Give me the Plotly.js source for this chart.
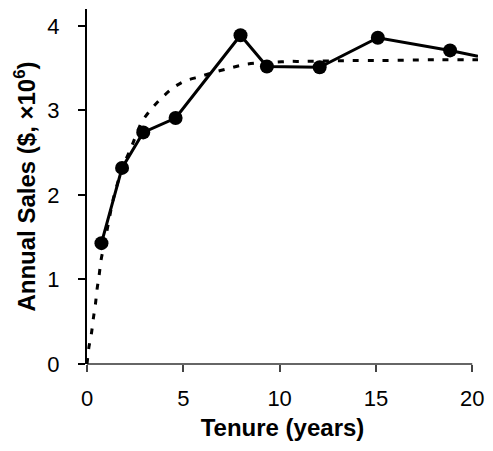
<!DOCTYPE html>
<html>
<head>
<meta charset="utf-8">
<script src="https://cdn.plot.ly/plotly-3.0.1.min.js"></script>
<style>html,body{margin:0;padding:0;background:#fff;}</style>
</head>
<body>
<div id="chart" style="width:493px;height:451px;"></div>
<script>
// Observed annual sales by tenure (line continues past last marker)
const tenure = [0.75, 1.82, 2.92, 4.6, 7.97, 9.34, 12.08, 15.1, 18.85, 20.3];
const sales  = [1.43, 2.32, 2.74, 2.91, 3.89, 3.52, 3.51, 3.86, 3.71, 3.64];
const markedCount = 9;

// Fitted curve (dotted)
const fitTenure = [0, 0.1, 0.23, 0.33, 0.44, 0.52, 0.63, 0.73, 1.03, 1.35, 1.8, 2.31, 2.83, 3.35, 3.88, 4.48, 5.09, 5.87, 6.56, 7.4, 8.1, 8.8, 9.7, 10.5, 11.25, 13.6, 15.2, 18.3, 20.3];
const fitSales  = [0, 0.2, 0.36, 0.54, 0.71, 0.88, 1.05, 1.23, 1.57, 1.94, 2.3, 2.57, 2.86, 3.02, 3.15, 3.27, 3.35, 3.4, 3.45, 3.5, 3.54, 3.56, 3.57, 3.58, 3.58, 3.59, 3.59, 3.6, 3.6];

const xTicks = [0, 5, 10, 15, 20];
const yTicks = [0, 1, 2, 3, 4];

const font = "Arial, 'Liberation Sans', sans-serif";

const traces = [
  {
    x: fitTenure, y: fitSales, type: 'scatter', mode: 'lines',
    line: {color: '#000', width: 3, dash: '6px,9px', shape: 'spline', smoothing: 0.6},
    hoverinfo: 'skip'
  },
  {
    x: tenure, y: sales, type: 'scatter', mode: 'lines',
    line: {color: '#000', width: 3}
  },
  {
    x: tenure.slice(0, markedCount), y: sales.slice(0, markedCount), type: 'scatter', mode: 'markers',
    marker: {color: '#000', size: 14}, cliponaxis: false
  }
];

const layout = {
  width: 493, height: 451,
  margin: {l: 87, r: 15, t: 9, b: 87},
  showlegend: false,
  paper_bgcolor: '#fff', plot_bgcolor: '#fff',
  font: {family: font, color: '#000'},
  xaxis: {
    range: [0, 20.3], tickvals: xTicks, ticktext: xTicks.map(String),
    showgrid: false, zeroline: false, showline: false,
    ticks: 'outside', ticklen: 7, tickwidth: 2, tickcolor: '#444',
    ticklabelstandoff: 8,
    tickfont: {size: 22, family: font, color: '#000'},
    title: {text: '<b>Tenure (years)</b>', font: {size: 24, family: font, color: '#000'}, standoff: 8}
  },
  yaxis: {
    range: [0, 4.2], tickvals: yTicks, ticktext: yTicks.map(String),
    showgrid: false, zeroline: false, showline: true, linecolor: '#000', linewidth: 2,
    ticks: 'outside', ticklen: 7, tickwidth: 2, tickcolor: '#000',
    ticklabelstandoff: 14,
    tickfont: {size: 22, family: font, color: '#000'},
    title: {text: '<b>Annual Sales ($, ×10<sup>6</sup>)</b>', font: {size: 24, family: font, color: '#000'}, standoff: 5}
  },
  shapes: [
    {type: 'line', xref: 'x', yref: 'paper', x0: xTicks[0], x1: xTicks[xTicks.length - 1], y0: 0, y1: 0,
     line: {color: '#666', width: 2}, layer: 'below'}
  ]
};

Plotly.newPlot('chart', traces, layout, {displayModeBar: false, staticPlot: true});
</script>
</body>
</html>
